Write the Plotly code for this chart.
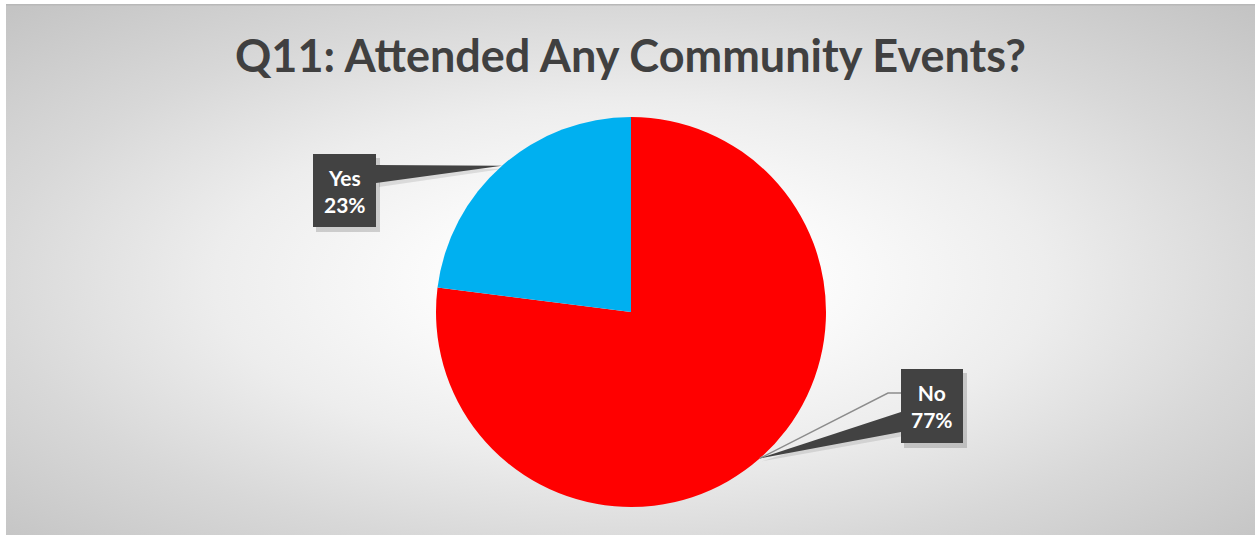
import base64
import math
import plotly.graph_objects as go

# ---- data ----
labels = ["No", "Yes"]
values = [77, 23]
colors = ["#FF0000", "#00B0F0"]
title_text = "Q11: Attended Any Community Events?"

# ---- layout geometry (pixels) ----
W, H = 1255, 535
cx, cy, R = 631, 312, 195


def px(x):
    return x / W


def py(y):
    return 1 - y / H


# radial gradient background and dotted box texture as inline svg
svg = (
    '<svg xmlns="http://www.w3.org/2000/svg" width="1249" height="531" viewBox="0 0 1249 531" preserveAspectRatio="none">'
    '<defs><radialGradient id="g" cx="0.5" cy="0.52" r="0.71" fx="0.5" fy="0.52">'
    '<stop offset="0" stop-color="#ffffff"/>'
    '<stop offset="0.22" stop-color="#fbfbfb"/>'
    '<stop offset="0.47" stop-color="#ededed"/>'
    '<stop offset="0.72" stop-color="#d8d8d8"/>'
    '<stop offset="1" stop-color="#c4c4c4"/>'
    '</radialGradient></defs>'
    '<rect x="0" y="0" width="1249" height="531" fill="url(#g)"/>'
    '<rect x="0" y="0" width="1249" height="1.5" fill="#b8b8b8"/>'
    '</svg>'
)
src = "data:image/svg+xml;base64," + base64.b64encode(svg.encode()).decode()

fig = go.Figure()
fig.add_trace(go.Pie(
    labels=labels, values=values, sort=False, direction="clockwise", rotation=0,
    marker=dict(colors=colors, line=dict(width=0)),
    textinfo="none", hoverinfo="label+percent", showlegend=False,
    domain=dict(x=[px(cx - R), px(cx + R)], y=[py(cy + R), py(cy - R)]),
))

# leader tips at slice midpoints
total = sum(values)
cum = 0
tips = {}
for lab, v in zip(labels, values):
    ang = math.radians(360 * (cum + v / 2) / total)
    tips[lab] = (cx + R * math.sin(ang), cy - R * math.cos(ang))
    cum += v

shapes = []
annotations = []

boxes = {
    "Yes": dict(box=(313, 154, 376, 227), base=[(376, 165), (376, 183)]),
    "No": dict(box=(901, 369, 963, 443), base=[(901, 412), (901, 432)]),
}

# gray leader line for "No"
tx, ty = tips["No"]
shapes.append(dict(type="path", xref="paper", yref="paper",
                   path=f"M{px(tx)},{py(ty)} L{px(888)},{py(393)} L{px(901)},{py(393)}",
                   line=dict(color="#8c8c8c", width=1.5)))

for lab, v in zip(labels, values):
    b = boxes[lab]
    x0, y0, x1, y1 = b["box"]
    tx, ty = tips[lab]
    (bx1, by1), (bx2, by2) = b["base"]
    # shadow
    shapes.append(dict(type="path", xref="paper", yref="paper",
                       path=f"M{px(bx1+3)},{py(by1+4)} L{px(tx+2)},{py(ty+3)} L{px(bx2+3)},{py(by2+4)} Z",
                       fillcolor="rgba(0,0,0,0.10)", line=dict(width=0)))
    shapes.append(dict(type="rect", xref="paper", yref="paper",
                       x0=px(x0 + 3), x1=px(x1 + 4), y0=py(y0 + 4), y1=py(y1 + 5),
                       fillcolor="rgba(0,0,0,0.16)", line=dict(width=0)))
    # pointer
    shapes.append(dict(type="path", xref="paper", yref="paper",
                       path=f"M{px(bx1)},{py(by1)} L{px(tx)},{py(ty)} L{px(bx2)},{py(by2)} Z",
                       fillcolor="#424242", line=dict(width=0)))
    # box
    shapes.append(dict(type="rect", xref="paper", yref="paper",
                       x0=px(x0), x1=px(x1), y0=py(y0), y1=py(y1),
                       fillcolor="#424242", line=dict(width=0)))
    pct = round(100 * v / total)
    annotations.append(dict(xref="paper", yref="paper", x=px((x0 + x1) / 2), y=py((y0 + y1) / 2),
                            xanchor="center", yanchor="middle",
                            text=f"{lab}<br>{pct}%", showarrow=False, align="center",
                            font=dict(family="Lato", size=21, color="#ffffff", weight="bold")))

annotations.append(dict(xref="paper", yref="paper", x=px(630), y=py(55), text=title_text,
                        showarrow=False, xanchor="center", yanchor="middle",
                        font=dict(family="Lato", size=45, color="#404040", weight="bold")))

fig.update_layout(
    width=W, height=H,
    margin=dict(l=0, r=0, t=0, b=0),
    paper_bgcolor="#ffffff", plot_bgcolor="rgba(0,0,0,0)",
    images=[dict(source=src, xref="paper", yref="paper", x=px(6), y=py(4),
                 sizex=px(W) - px(6), sizey=py(4) - py(H), sizing="stretch",
                 xanchor="left", yanchor="top", layer="below")],
    shapes=shapes,
    annotations=annotations,
    showlegend=False,
)

fig.write_html("out.html", config={"displayModeBar": False},
               post_script="document.body.style.margin='0';document.body.style.overflow='hidden';")
